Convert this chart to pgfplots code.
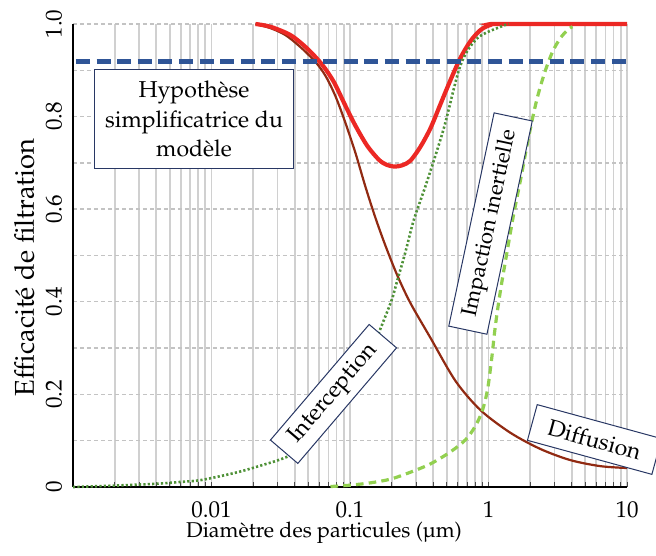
\documentclass[border=0pt]{standalone}
\usepackage[T1]{fontenc}
\usepackage{mathpazo}
\usepackage{textcomp}
\usepackage{pgfplots}
\pgfplotsset{compat=1.18}

\definecolor{totred}{RGB}{236,40,36}
\definecolor{diffbrown}{RGB}{145,42,18}
\definecolor{intgreen}{RGB}{78,145,55}
\definecolor{impgreen}{RGB}{146,208,80}
\definecolor{hypblue}{RGB}{47,85,151}
\definecolor{boxline}{RGB}{40,55,100}
\definecolor{gridgray}{RGB}{208,208,208}
\definecolor{hgridgray}{RGB}{195,195,195}

% Efficacite totale
\pgfplotstableread{
x y
0.02078 1.000
0.02667 0.994
0.03718 0.976
0.04909 0.947
0.06300 0.912
0.07638 0.875
0.09279 0.823
0.1096  0.780
0.1331  0.737
0.1614  0.707
0.1835  0.696
0.2096  0.692
0.2393  0.695
0.2734  0.705
0.3228  0.735
0.3813  0.775
0.4501  0.827
0.5316  0.879
0.6279  0.927
0.7413  0.963
0.8754  0.987
1.034   0.998
1.221   1.000
10      1.000
}\totale

% Diffusion
\pgfplotstableread{
x y
0.02078 1.000
0.02667 0.991
0.03422 0.976
0.04391 0.950
0.05634 0.918
0.06655 0.888
0.07856 0.844
0.09279 0.786
0.1096  0.721
0.1294  0.648
0.1528  0.581
0.1804  0.521
0.2203  0.456
0.2734  0.397
0.3813  0.322
0.5778  0.229
0.8754  0.166
1.441   0.117
2.374   0.082
3.909   0.058
6.439   0.045
10      0.041
}\diffusion

% Interception
\pgfplotstableread{
x y
0.001  0.000
0.002  0.003
0.004  0.007
0.006  0.011
0.0084 0.015
0.0145 0.030
0.0214 0.044
0.035  0.065
0.050  0.095
0.070  0.140
0.0854 0.170
0.100  0.200
0.130  0.262
0.166  0.342
0.200  0.404
0.219  0.445
0.250  0.505
0.289  0.577
0.360  0.660
0.476  0.775
0.628  0.911
0.829  0.969
1.22   0.994
1.40   1.000
}\interception

% Impaction inertielle
\pgfplotstableread{
x y
0.07229 0.001
0.1008 0.004
0.1406 0.009
0.1961 0.017
0.2734 0.032
0.3813 0.050
0.5316 0.076
0.6824 0.102
0.8055 0.132
0.9050 0.166
0.9835 0.210
1.051  0.274
1.123  0.350
1.221  0.425
1.349  0.501
1.515  0.587
1.702  0.663
1.944  0.754
2.221  0.834
2.537  0.894
2.899  0.940
3.311  0.970
3.781  0.989
4.042  0.994
}\impaction

\begin{document}
\begin{tikzpicture}
\begin{axis}[
  scale only axis,
  width=277pt, height=231.5pt,
  xmode=log,
  xmin=0.001, xmax=10, ymin=0, ymax=1,
  clip=false,
  axis x line*=bottom, axis y line*=left,
  x axis line style={-, black, line width=1pt},
  y axis line style={-, black, line width=0.8pt},
  xtick={0.01,0.1,1,10},
  xticklabels={0.01,0.1,1,10},
  minor xtick={0.002,0.003,0.004,0.005,0.006,0.007,0.008,0.009,
               0.02,0.03,0.04,0.05,0.06,0.07,0.08,0.09,
               0.2,0.3,0.4,0.5,0.6,0.7,0.8,0.9,
               2,3,4,5,6,7,8,9},
  ytick={0,0.2,0.4,0.6,0.8,1},
  yticklabels={0,0.2,0.4,0.6,0.8,1.0},
  minor ytick={0.1,0.3,0.5,0.7,0.9},
  xmajorgrids, xminorgrids, ymajorgrids, yminorgrids,
  major x grid style={gridgray, line width=0.9pt},
  minor x grid style={gridgray, line width=0.9pt},
  major y grid style={hgridgray, line width=0.7pt, dash pattern=on 2pt off 1.5pt},
  minor y grid style={hgridgray, line width=0.7pt, dash pattern=on 2pt off 1.5pt},
  xtick pos=left,
  tick align=inside,
  major tick length=2.5pt, minor tick length=2.5pt,
  xtick style={black!70, line width=0.4pt},
  ytick style={draw=none},
  tick label style={font=\fontsize{11.5}{13}\selectfont},
  xticklabel style={anchor=base, yshift=-15pt},
  yticklabel style={xshift=-5.7pt, rotate=90, anchor=base},
  xlabel={Diam\`etre des particules (\textmu m)},
  ylabel={Efficacit\'e de filtration},
  xlabel style={font=\fontsize{10.7}{12}\selectfont,
                at={([xshift=-13pt,yshift=-25pt]rel axis cs:0.5,0)}, anchor=base},
  ylabel style={font=\fontsize{13.6}{16}\selectfont,
                at={([xshift=-19.5pt,yshift=-6pt]rel axis cs:0,0.5)}, anchor=base},
]
\addplot[diffbrown, line width=1.1pt, smooth] table {\diffusion};
\addplot[totred, line width=2.1pt, smooth] table {\totale};
\addplot[intgreen, line width=1.3pt, dash pattern=on 1.1pt off 1.1pt, smooth] table {\interception};
\addplot[impgreen, line width=1.6pt, dash pattern=on 3.8pt off 2.6pt, smooth] table {\impaction};
\addplot[hypblue, line width=2.5pt, dash pattern=on 7pt off 3.3pt] coordinates {(0.00105,0.918) (10,0.918)};

\node[draw=boxline, line width=0.5pt, fill=white, minimum width=99.5pt, minimum height=49.5pt,
      align=center, inner sep=1pt, font=\fontsize{11.5}{14.75}\selectfont]
  at (axis cs:0.00748,0.794) {Hypoth\`ese\\simplificatrice du\\mod\`ele};
\node[draw=boxline, line width=0.5pt, fill=white, minimum width=109pt, minimum height=19.5pt,
      inner sep=1pt, rotate=78, font=\fontsize{11}{13}\selectfont]
  at (axis cs:1.034,0.569) {Impaction inertielle};
\node[draw=boxline, line width=0.5pt, fill=white, minimum width=76pt, minimum height=18pt,
      inner sep=1pt, rotate=49.5, font=\fontsize{11.5}{14}\selectfont]
  at (axis cs:0.076,0.201) {Interception};
\node[draw=boxline, line width=0.5pt, fill=white, minimum width=64.5pt, minimum height=18.5pt,
      inner sep=1pt, rotate=-15.3, font=\fontsize{11.5}{14}\selectfont]
  at (axis cs:5.83,0.1026) {Diffusion};
\end{axis}
\pgfresetboundingbox
\useasboundingbox (-36.5pt,-34pt) rectangle (291.5pt,243.5pt);
\end{tikzpicture}
\end{document}
